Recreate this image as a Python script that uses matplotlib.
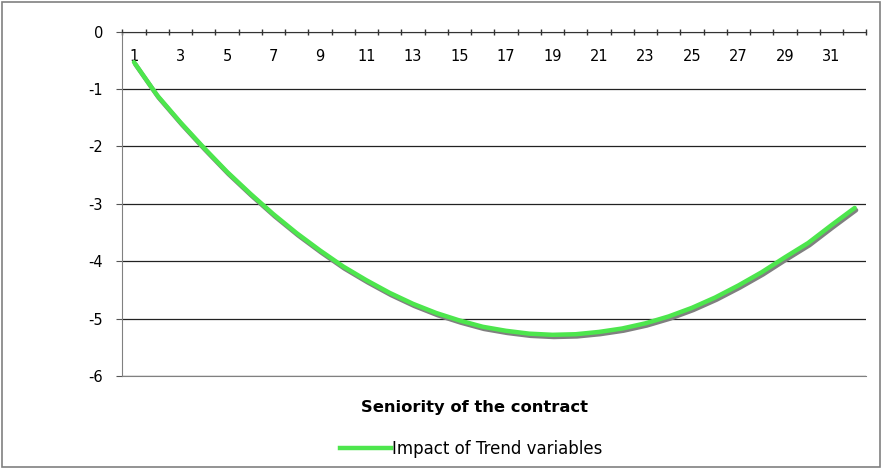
import numpy as np
import matplotlib.pyplot as plt
import matplotlib.patheffects as pe
from matplotlib.patches import Rectangle
from matplotlib.lines import Line2D

# seniority categories and the trend impact
seniority = list(range(1, 33))
impact = [-0.53, -1.11, -1.58, -2.02, -2.44, -2.82, -3.18, -3.51, -3.81, -4.09,
          -4.33, -4.55, -4.74, -4.90, -5.03, -5.14, -5.21, -5.26, -5.28, -5.27,
          -5.23, -5.17, -5.08, -4.96, -4.81, -4.63, -4.42, -4.19, -3.93, -3.68,
          -3.37, -3.07]
tick_labels = [str(s) if s % 2 == 1 else '' for s in seniority]
y_ticks = [0, -1, -2, -3, -4, -5, -6]

green = '#4DE64D'
plt.rcParams['font.family'] = ['DejaVu Sans']

fig = plt.figure(figsize=(8.84, 4.68), dpi=100)
ax = fig.add_axes([0.1384, 0.1963, 0.98 - 0.1384, 0.9323 - 0.1963])

ax.plot(seniority, impact, color=green, lw=3.2, solid_capstyle='round',
        solid_joinstyle='round',
        path_effects=[pe.SimpleLineShadow(offset=(1, -1.6), shadow_color='#808080', alpha=1),
                      pe.Normal()])

ax.set_xlim(0.5, 32.5)
ax.set_ylim(-6, 0)

# category axis sits on y = 0 (top of the plot)
ax.set_xticks(seniority)
ax.set_xticklabels(tick_labels)
ax.set_xticks(np.arange(0.5, 33, 1), minor=True)
ax.tick_params(axis='x', which='major', top=True, bottom=False, labeltop=True,
               labelbottom=False, length=0, pad=-23, labelsize=10.5)
ax.tick_params(axis='x', which='minor', top=True, bottom=False, length=4,
               direction='inout', color='#333333', width=1)

ax.set_yticks(y_ticks)
ax.set_yticklabels([str(v) for v in y_ticks])
ax.tick_params(axis='y', length=4, direction='out', color='#555555', pad=10, labelsize=10.5)

ax.grid(axis='y', color='#222222', lw=0.9)
ax.set_axisbelow(True)
ax.spines['right'].set_visible(False)
ax.spines['top'].set_color('#333333')
ax.spines['left'].set_color('#808080')
ax.spines['bottom'].set_color('#808080')

fig.text(0.5365, 0.130, 'Seniority of the contract', ha='center', va='center',
         fontsize=11.8, fontweight='bold')

handle = Line2D([], [], color=green, lw=3.2)
fig.legend([handle], ['Impact of Trend variables'], loc='center',
           bbox_to_anchor=(0.533, 0.0406), frameon=False, fontsize=12,
           handlelength=3.1, handletextpad=0.05)

fig.patches.append(Rectangle((0.002, 0.003), 0.994, 0.993, transform=fig.transFigure,
                             fill=False, edgecolor='#808080', lw=1.2))

fig.savefig('out.png', dpi=100)
